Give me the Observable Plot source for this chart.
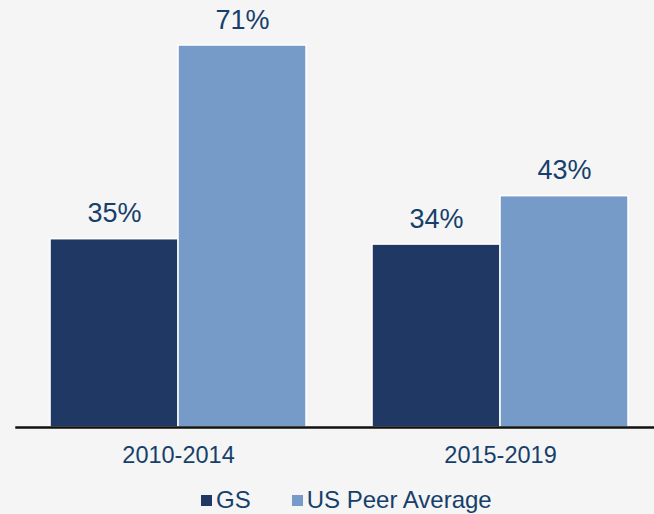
<!DOCTYPE html>
<html>
<head>
<meta charset="utf-8">
<script src="https://cdn.jsdelivr.net/npm/d3@7"></script>
<script src="https://cdn.jsdelivr.net/npm/@observablehq/plot@0.6"></script>
<style>
  html, body { margin: 0; padding: 0; background: #f5f5f5; width: 654px; height: 514px; overflow: hidden; }
  body { position: relative; font-family: "Liberation Sans", Arial, sans-serif; }
  #legend { position: absolute; left: 201px; top: 487px; font-size: 24px; line-height: 26px; color: #173f6b; white-space: nowrap; display: flex; align-items: center; }
  .sw { display: inline-block; width: 11px; height: 11px; margin-right: 4px; }
  .item { display: inline-flex; align-items: center; margin-right: 41px; }
</style>
</head>
<body>
<div id="chart"></div>
<div id="legend"></div>
<script>
const periods = ["2010-2014", "2015-2019"];
const series = ["GS", "US Peer Average"];
const gsValues = [35, 34];
const peerValues = [71, 43];
const colors = ["#1f3864", "#769bc8"];

const data = [];
periods.forEach((p, i) => {
  data.push({period: p, series: series[0], value: gsValues[i]});
  data.push({period: p, series: series[1], value: peerValues[i]});
});

const textColor = "#173f6b";

const chart = Plot.plot({
  width: 654,
  height: 480,
  marginLeft: 16,
  marginRight: 0,
  marginTop: 45,
  marginBottom: 53,
  style: {background: "transparent", fontFamily: "'Liberation Sans', Arial, sans-serif", color: textColor},
  fx: {domain: periods, paddingInner: 0.205, paddingOuter: 0.0932, align: 0.567, round: false, label: null, axis: null},
  x: {domain: series, padding: 0, round: false, axis: null},
  y: {domain: [0, 71], axis: null},
  color: {domain: series, range: colors},
  marks: [
    Plot.barY(data, {fx: "period", x: "series", y: "value", fill: "series", stroke: "white", strokeWidth: 1.5}),
    Plot.text(data, {fx: "period", x: "series", y: "value", text: d => d.value + "%", lineAnchor: "bottom", dy: -17, fontSize: 27, fill: textColor}),
    Plot.frame({anchor: "bottom", facet: "super", stroke: "#111", strokeWidth: 2.5, insetLeft: -34, insetRight: -26}),
    Plot.axisFx({anchor: "bottom", tickSize: 0, tickPadding: 19, fontSize: 23.5, color: textColor, label: null})
  ]
});
document.getElementById("chart").appendChild(chart);

const legend = document.getElementById("legend");
series.forEach((s, i) => {
  const item = document.createElement("span");
  item.className = "item";
  const sw = document.createElement("span");
  sw.className = "sw";
  sw.style.background = colors[i];
  item.appendChild(sw);
  item.appendChild(document.createTextNode(s));
  legend.appendChild(item);
});
</script>
</body>
</html>
